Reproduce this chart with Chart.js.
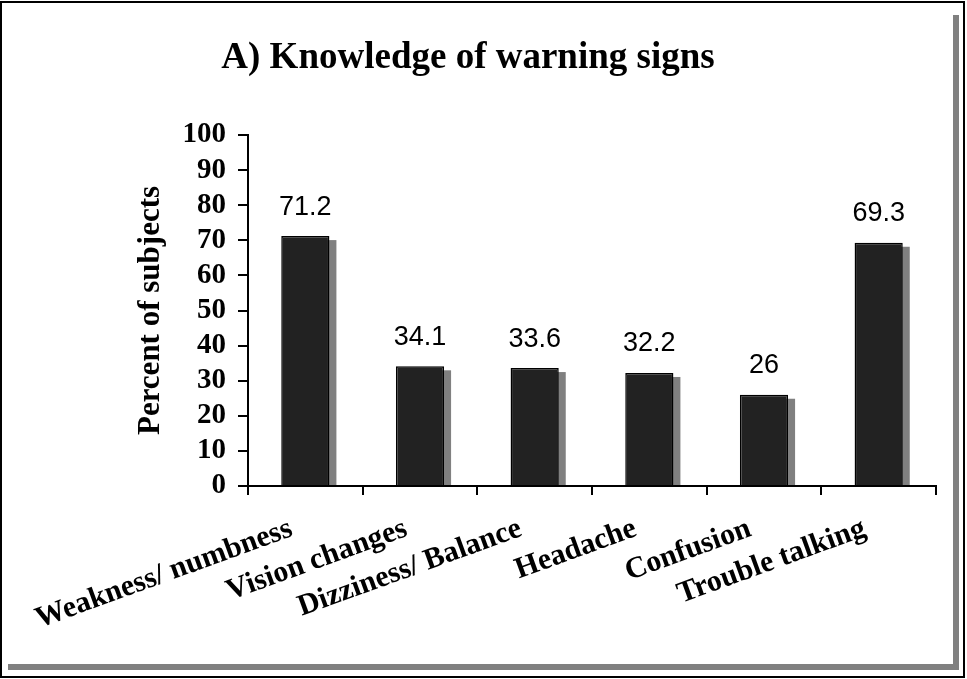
<!DOCTYPE html>
<html>
<head>
<meta charset="utf-8">
<script src="https://cdn.jsdelivr.net/npm/chart.js@4.4.0/dist/chart.umd.min.js"></script>
<style>
  html, body { margin: 0; padding: 0; background: #fff; }
  #wrap { position: relative; width: 967px; height: 679px; overflow: hidden; }
  #c { position: absolute; left: 0; top: 0; }
  .frame { position: absolute; left: 0; top: 1px; width: 965px; height: 677px; box-sizing: border-box; border: 2px solid #000; pointer-events: none; }
  .shade-r { position: absolute; left: 953px; top: 15px; width: 6px; height: 655px; background: #808080; }
  .shade-b { position: absolute; left: 8px; top: 664px; width: 951px; height: 6px; background: #808080; }
</style>
</head>
<body>
<div id="wrap">
  <canvas id="c" width="967" height="679"></canvas>
  <div class="shade-r"></div>
  <div class="shade-b"></div>
  <div class="frame"></div>
</div>
<script>
const categories = ['Weakness/ numbness', 'Vision changes', 'Dizziness/ Balance', 'Headache', 'Confusion', 'Trouble talking'];
const percents = [71.2, 34.1, 33.6, 32.2, 26, 69.3];
const yTicks = [0, 10, 20, 30, 40, 50, 60, 70, 80, 90, 100];

const serif = "'Liberation Serif', 'Times New Roman', serif";

// gray drop shadow behind each bar, taken from the bar's own geometry
const barShadow = {
  id: 'barShadow',
  beforeDatasetsDraw(chart) {
    const ctx = chart.ctx;
    ctx.save();
    ctx.fillStyle = '#808080';
    chart.getDatasetMeta(0).data.forEach((el) => {
      const { x, y, base, width } = el.getProps(['x', 'y', 'base', 'width'], true);
      ctx.fillRect(x - width / 2 + 7, y + 4, width, base - y - 4);
    });
    ctx.restore();
  }
};

const valueLabels = {
  id: 'valueLabels',
  afterDatasetsDraw(chart) {
    const ctx = chart.ctx;
    ctx.save();
    ctx.font = "27px 'Liberation Sans', Arial, sans-serif";
    ctx.fillStyle = '#000';
    ctx.textAlign = 'center';
    ctx.textBaseline = 'middle';
    chart.getDatasetMeta(0).data.forEach((el, i) => {
      ctx.fillText(String(percents[i]), el.x, el.y - 29);
    });
    ctx.restore();
  }
};

new Chart(document.getElementById('c'), {
  type: 'bar',
  data: {
    labels: categories,
    datasets: [{
      data: percents,
      backgroundColor: '#222222',
      borderColor: '#000000',
      borderWidth: 1.5,
      barPercentage: 0.42,
      categoryPercentage: 1
    }]
  },
  options: {
    responsive: false,
    animation: false,
    devicePixelRatio: 1,
    layout: { padding: { top: 0, left: 0, right: 31, bottom: 0 } },
    plugins: {
      legend: { display: false },
      tooltip: { enabled: false },
      title: {
        display: true,
        text: 'A) Knowledge of warning signs',
        color: '#000',
        font: { family: serif, size: 37, weight: 'bold', lineHeight: 1.2 },
        padding: { top: 36, bottom: 54.6 }
      }
    },
    scales: {
      x: {
        afterFit(scale) { scale.height = 193; },
        border: { display: true, color: '#000', width: 2 },
        grid: { display: true, drawOnChartArea: false, drawTicks: true, tickLength: 9, color: '#000', lineWidth: 2, offset: true },
        ticks: {
          color: '#000',
          font: { family: serif, size: 30, weight: 'bold' },
          minRotation: 20,
          maxRotation: 20,
          autoSkip: false,
          padding: 16,
          labelOffset: -14
        }
      },
      y: {
        min: 0,
        max: 100,
        afterFit(scale) { scale.width = 248; },
        afterBuildTicks(scale) { scale.ticks = yTicks.map((v) => ({ value: v })); },
        border: { display: true, color: '#000', width: 2 },
        grid: { display: true, drawOnChartArea: false, drawTicks: true, tickLength: 10, color: '#000', lineWidth: 2 },
        ticks: {
          color: '#000',
          autoSkip: false,
          font: { family: serif, size: 29, weight: 'bold' },
          padding: 12
        },
        title: {
          display: true,
          text: 'Percent of subjects',
          color: '#000',
          font: { family: serif, size: 31, weight: 'bold' },
          padding: { top: 132, bottom: 0 }
        }
      }
    }
  },
  plugins: [barShadow, valueLabels]
});
</script>
</body>
</html>
